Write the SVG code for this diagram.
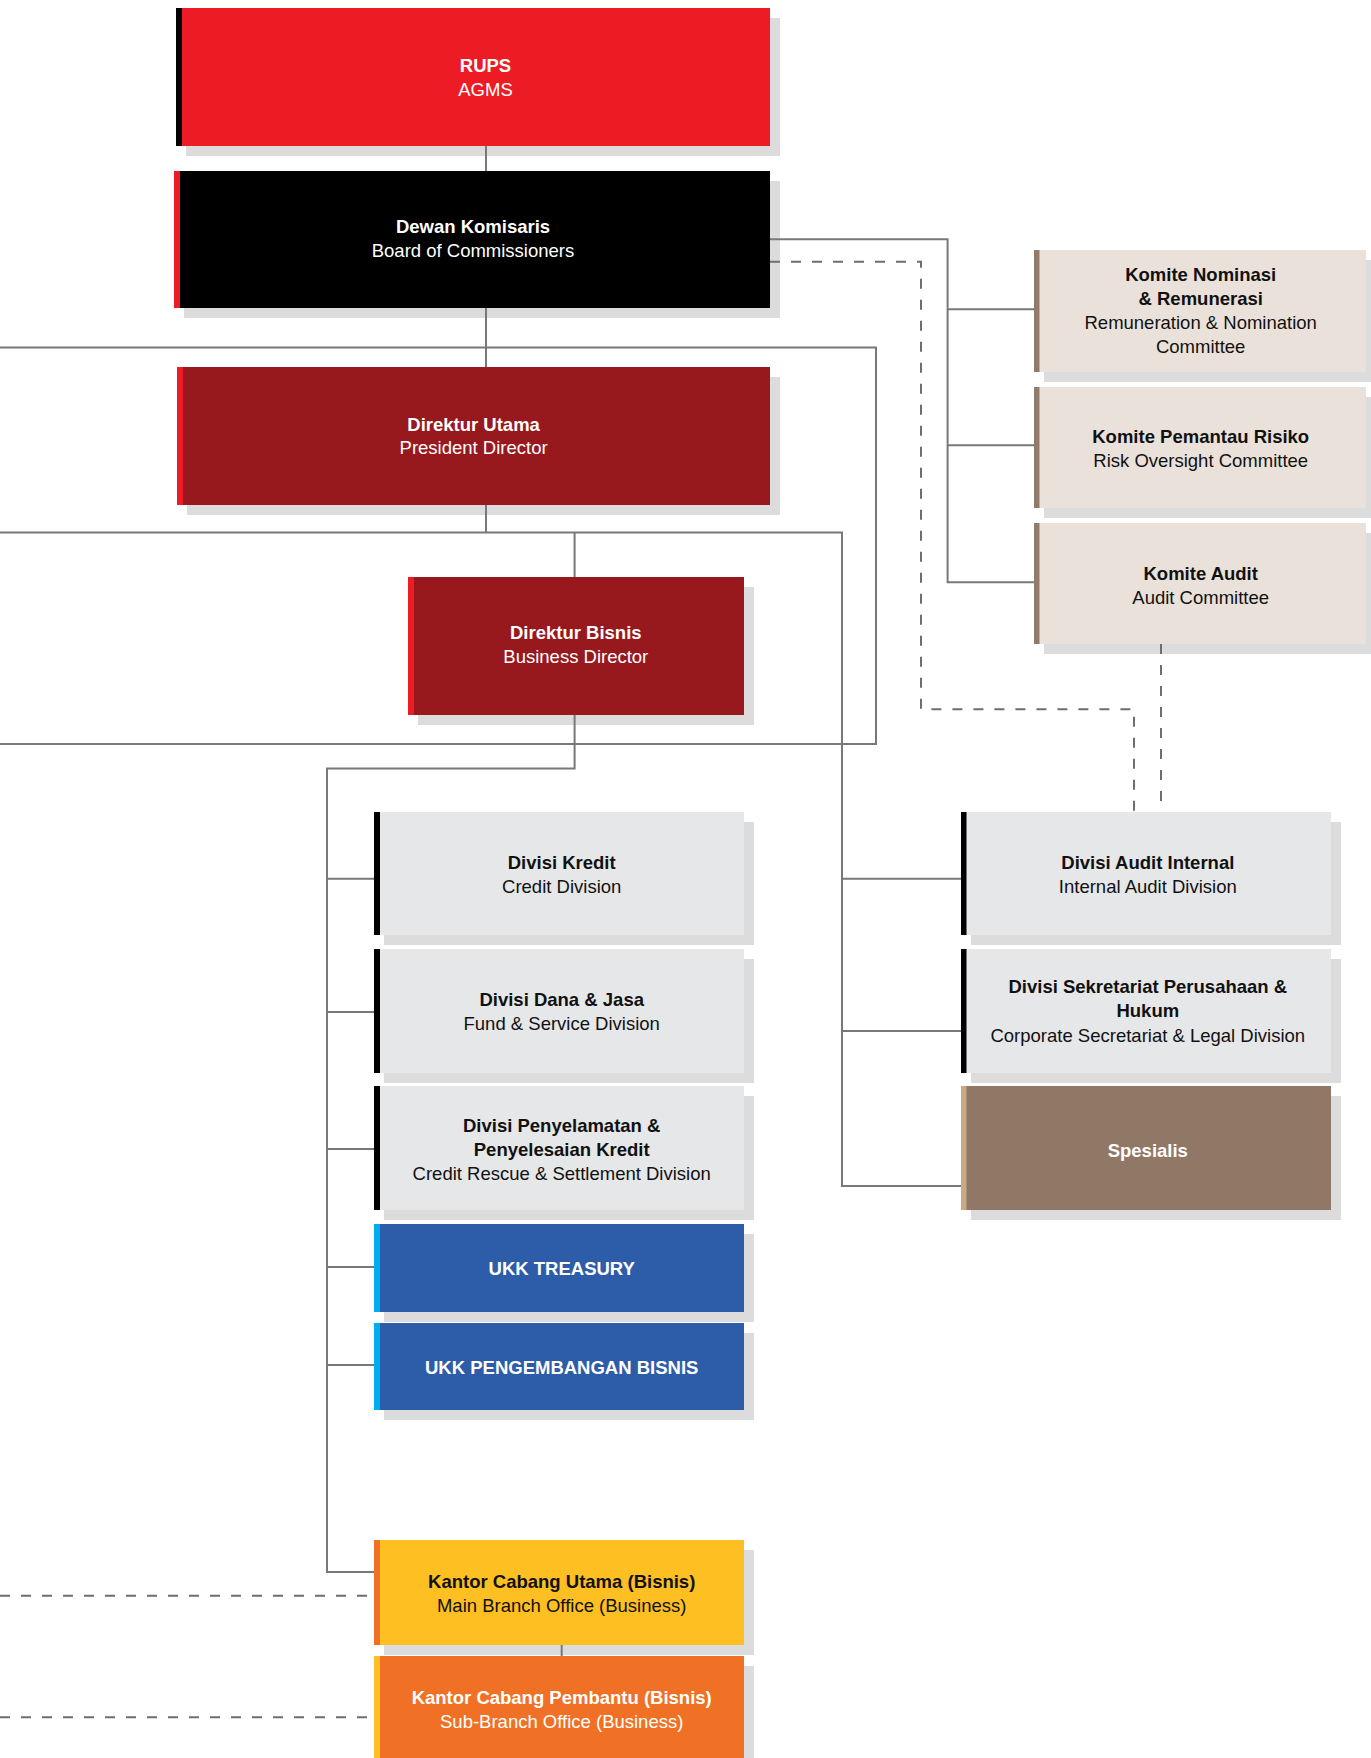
<svg xmlns="http://www.w3.org/2000/svg" width="1371" height="1758" viewBox="0 0 1371 1758">
<style>
text{font-family:"Liberation Sans",Arial,Helvetica,sans-serif;font-size:18.5px;text-anchor:middle}
.b{font-weight:bold}
.w{fill:#ffffff}
.k{fill:#111111}
.sh{fill:#dcdcdc}
.ln{fill:none;stroke:#77787b;stroke-width:2}
.dl{fill:none;stroke:#6d6e71;stroke-width:2;stroke-dasharray:10 11}
</style>
<rect width="1371" height="1758" fill="#ffffff"/>
<g id="shadows">
<rect class="sh" x="186" y="18" width="594" height="138"/>
<rect class="sh" x="184" y="181" width="596" height="137"/>
<rect class="sh" x="187" y="377" width="593" height="138"/>
<rect class="sh" x="418" y="587" width="336" height="138"/>
<rect class="sh" x="1044" y="260" width="332" height="122"/>
<rect class="sh" x="1044" y="397" width="332" height="121"/>
<rect class="sh" x="1044" y="533" width="332" height="121"/>
<rect class="sh" x="384" y="822" width="370" height="123"/>
<rect class="sh" x="384" y="959" width="370" height="124"/>
<rect class="sh" x="384" y="1096" width="370" height="124"/>
<rect class="sh" x="384" y="1234" width="370" height="88"/>
<rect class="sh" x="384" y="1333" width="370" height="87"/>
<rect class="sh" x="384" y="1550" width="370" height="105"/>
<rect class="sh" x="384" y="1666" width="370" height="110"/>
<rect class="sh" x="971" y="822" width="370" height="123"/>
<rect class="sh" x="971" y="959" width="370" height="124"/>
<rect class="sh" x="971" y="1096" width="370" height="124"/>
</g>
<g id="connectors">
<path class="ln" d="M486 146V171M486 308V367M0 347.5H876V744H0M486 505V532.5M0 532.5H842V1186H961M842 878.7H961M842 1031H961M574.6 532.5V577M574.6 715V768.5H327V1572H374M327 878.7H374M327 1012H374M327 1149H374M327 1267H374M327 1365H374M561.7 1645V1656M770 239.3H947.6V582.3H1034M947.6 309.3H1034M947.6 445.3H1034"/>
<path class="dl" d="M770 261.7H921V709.3H1134V812M1161 644V812M0 1595.7H374M0 1717.3H374"/>
</g>
<g id="rups">
<rect x="176" y="8" width="594" height="138" fill="#ed1c24"/>
<rect x="176" y="8" width="6" height="138" fill="#000000"/>
<text class="b w" x="485.5" y="71.7">RUPS</text>
<text class="w" x="485.5" y="95.7">AGMS</text>
</g>
<g id="dewan-komisaris">
<rect x="174" y="171" width="596" height="137" fill="#000000"/>
<rect x="174" y="171" width="6" height="137" fill="#ed1c24"/>
<text class="b w" x="473" y="233.3">Dewan Komisaris</text>
<text class="w" x="473" y="257.3">Board of Commissioners</text>
</g>
<g id="direktur-utama">
<rect x="177" y="367" width="593" height="138" fill="#97191e"/>
<rect x="177" y="367" width="6" height="138" fill="#ed1c24"/>
<text class="b w" x="473.6" y="430.7">Direktur Utama</text>
<text class="w" x="473.6" y="454.3">President Director</text>
</g>
<g id="direktur-bisnis">
<rect x="408" y="577" width="336" height="138" fill="#97191e"/>
<rect x="408" y="577" width="6" height="138" fill="#ed1c24"/>
<text class="b w" x="575.8" y="639.3">Direktur Bisnis</text>
<text class="w" x="575.8" y="663.3">Business Director</text>
</g>
<g id="komite-nominasi">
<rect x="1034" y="250" width="332" height="122" fill="#eae2da"/>
<rect x="1034" y="250" width="5.5" height="122" fill="#937b69"/>
<text class="b k" x="1200.7" y="281">Komite Nominasi</text>
<text class="b k" x="1200.7" y="305">&amp; Remunerasi</text>
<text class="k" x="1200.7" y="329">Remuneration &amp; Nomination</text>
<text class="k" x="1200.7" y="353">Committee</text>
</g>
<g id="komite-pemantau-risiko">
<rect x="1034" y="387" width="332" height="121" fill="#eae2da"/>
<rect x="1034" y="387" width="5.5" height="121" fill="#937b69"/>
<text class="b k" x="1200.7" y="442.7">Komite Pemantau Risiko</text>
<text class="k" x="1200.7" y="466.7">Risk Oversight Committee</text>
</g>
<g id="komite-audit">
<rect x="1034" y="523" width="332" height="121" fill="#eae2da"/>
<rect x="1034" y="523" width="5.5" height="121" fill="#937b69"/>
<text class="b k" x="1200.7" y="580">Komite Audit</text>
<text class="k" x="1200.7" y="604">Audit Committee</text>
</g>
<g id="divisi-kredit">
<rect x="374" y="812" width="370" height="123" fill="#e6e7e8"/>
<rect x="374" y="812" width="6" height="123" fill="#000000"/>
<text class="b k" x="561.7" y="869">Divisi Kredit</text>
<text class="k" x="561.7" y="893.3">Credit Division</text>
</g>
<g id="divisi-dana-jasa">
<rect x="374" y="949" width="370" height="124" fill="#e6e7e8"/>
<rect x="374" y="949" width="6" height="124" fill="#000000"/>
<text class="b k" x="561.7" y="1006">Divisi Dana &amp; Jasa</text>
<text class="k" x="561.7" y="1030">Fund &amp; Service Division</text>
</g>
<g id="divisi-penyelamatan">
<rect x="374" y="1086" width="370" height="124" fill="#e6e7e8"/>
<rect x="374" y="1086" width="6" height="124" fill="#000000"/>
<text class="b k" x="561.7" y="1131.7">Divisi Penyelamatan &amp;</text>
<text class="b k" x="561.7" y="1155.7">Penyelesaian Kredit</text>
<text class="k" x="561.7" y="1179.7">Credit Rescue &amp; Settlement Division</text>
</g>
<g id="ukk-treasury">
<rect x="374" y="1224" width="370" height="88" fill="#2d5ca8"/>
<rect x="374" y="1224" width="6" height="88" fill="#00aeef"/>
<text class="b w" x="561.7" y="1275">UKK TREASURY</text>
</g>
<g id="ukk-pengembangan-bisnis">
<rect x="374" y="1323" width="370" height="87" fill="#2d5ca8"/>
<rect x="374" y="1323" width="6" height="87" fill="#00aeef"/>
<text class="b w" x="561.7" y="1374.4">UKK PENGEMBANGAN BISNIS</text>
</g>
<g id="kantor-cabang-utama">
<rect x="374" y="1540" width="370" height="105" fill="#fdbf22"/>
<rect x="374" y="1540" width="6" height="105" fill="#f07125"/>
<text class="b k" x="561.7" y="1588">Kantor Cabang Utama (Bisnis)</text>
<text class="k" x="561.7" y="1612">Main Branch Office (Business)</text>
</g>
<g id="kantor-cabang-pembantu">
<rect x="374" y="1656" width="370" height="110" fill="#f07125"/>
<rect x="374" y="1656" width="6" height="110" fill="#fdbf22"/>
<text class="b w" x="561.7" y="1704">Kantor Cabang Pembantu (Bisnis)</text>
<text class="w" x="561.7" y="1728">Sub-Branch Office (Business)</text>
</g>
<g id="divisi-audit-internal">
<rect x="961" y="812" width="370" height="123" fill="#e6e7e8"/>
<rect x="961" y="812" width="5.5" height="123" fill="#000000"/>
<text class="b k" x="1147.8" y="869">Divisi Audit Internal</text>
<text class="k" x="1147.8" y="893.3">Internal Audit Division</text>
</g>
<g id="divisi-sekretariat">
<rect x="961" y="949" width="370" height="124" fill="#e6e7e8"/>
<rect x="961" y="949" width="5.5" height="124" fill="#000000"/>
<text class="b k" x="1147.8" y="993.3">Divisi Sekretariat Perusahaan &amp;</text>
<text class="b k" x="1147.8" y="1017.3">Hukum</text>
<text class="k" x="1147.8" y="1041.7">Corporate Secretariat &amp; Legal Division</text>
</g>
<g id="spesialis">
<rect x="961" y="1086" width="370" height="124" fill="#917866"/>
<rect x="961" y="1086" width="5.5" height="124" fill="#c9a882"/>
<text class="b w" x="1147.8" y="1156.7">Spesialis</text>
</g>
</svg>
